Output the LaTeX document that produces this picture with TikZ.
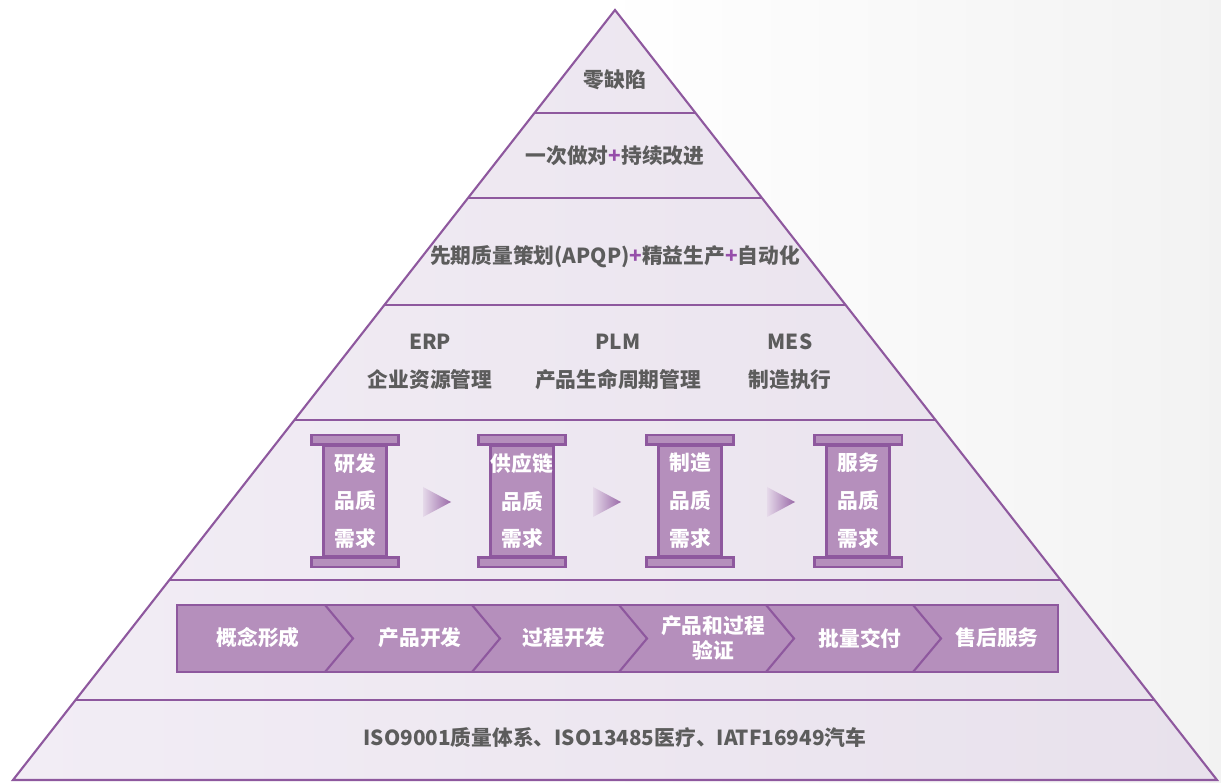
\documentclass[tikz,border=0pt]{standalone}
\usepackage{fontspec}
\setmainfont{Noto Sans CJK SC}
\usepackage{tikz}
\usetikzlibrary{calc}
\definecolor{lilac}{RGB}{142,88,158}
\definecolor{pillar}{RGB}{181,143,188}
\definecolor{paleleft}{RGB}{242,237,245}
\definecolor{paleright}{RGB}{232,225,236}
\definecolor{ink}{RGB}{92,92,92}
\definecolor{plus}{RGB}{150,78,170}

\begin{document}
\begin{tikzpicture}[x=0.02cm,y=-0.02cm,
  lvl/.style={draw=lilac,line width=1.2pt},
  lbl/.style={text=ink,font=\fontsize{11.8}{14}\selectfont\bfseries,align=center},
  wlbl/.style={text=white,font=\fontsize{11.8}{14.5}\selectfont\bfseries,align=center},
  shaft/.style={draw=lilac,fill=pillar,line width=1.2pt,minimum width=1.26cm,minimum height=2.22cm,inner sep=0pt},
  pcap/.style={draw=lilac,fill=pillar,line width=1.2pt},
  band/.style={draw=lilac,fill=pillar,line width=1.2pt}]
\useasboundingbox (0,0) rectangle (1221,783);
\fill[white] (0,0) rectangle (1221,783);
\shade[left color=white,right color=black!5] (600,0) rectangle (1221,783);

\coordinate (top) at (615,10);
\coordinate (bl)  at (13,780);
\coordinate (br)  at (1217,780);
\shade[left color=paleleft,right color=paleright] (top) -- (br) -- (bl) -- cycle;
\foreach \t in {0.1338,0.2442,0.3831,0.5325,0.7403,0.8961}
  \draw[lvl] ($(top)!\t!(bl)$) -- ($(top)!\t!(br)$);
\draw[lvl,line join=miter] (top) -- (br) -- (bl) -- cycle;

\node[lbl] (zd) at (615,80)  {零缺陷};
\node[lbl] (yc) at (615,156) {一次做对{\color{plus}+}持续改进};
\node[lbl] (aq) at (615,257) {先期质量策划(APQP){\color{plus}+}精益生产{\color{plus}+}自动化};

\node[lbl] (erp) at (430,342) {ERP};
\node[lbl] (plm) at (618,342) {PLM};
\node[lbl] (mes) at (790,342) {MES};
\node[lbl] (erpt) at (430,380) {企业资源管理};
\node[lbl] (plmt) at (618,380) {产品生命周期管理};
\node[lbl] (mest) at (790,380) {制造执行};

\foreach \i/\x/\a in {1/355/研发,2/522/供应链,3/690/制造,4/858/服务}{
  \node[shaft,wlbl,font=\fontsize{11.8}{21.6}\selectfont\bfseries] (p\i) at (\x,501) {\a\\品质\\需求};
  \draw[pcap] ([xshift=-0.22cm]p\i.north west) rectangle ([xshift=0.22cm,yshift=0.19cm]p\i.north east);
  \draw[pcap] ([xshift=-0.22cm]p\i.south west) rectangle ([xshift=0.22cm,yshift=-0.19cm]p\i.south east);
}
\foreach \x in {437,607,781}
  \shade[left color=paleleft!70!lilac!60,right color=lilac!90] (\x-14,487) -- (\x+14,502) -- (\x-14,517) -- cycle;

\draw[band] (177,605) rectangle (1058,672);
\foreach \x in {325,472,619,766,913}
  \draw[lvl] (\x,605) -- (\x+28,638.5) -- (\x,672);
\node[wlbl] (s1) at (258,638) {概念形成};
\node[wlbl] (s2) at (420,638) {产品开发};
\node[wlbl] (s3) at (564,638) {过程开发};
\node[wlbl] (s4) at (713,638) {产品和过程\\验证};
\node[wlbl] (s5) at (860,638) {批量交付};
\node[wlbl] (s6) at (997,638) {售后服务};

\node[lbl] (iso) at (615,738) {ISO9001质量体系、ISO13485医疗、IATF16949汽车};
\end{tikzpicture}
\end{document}
